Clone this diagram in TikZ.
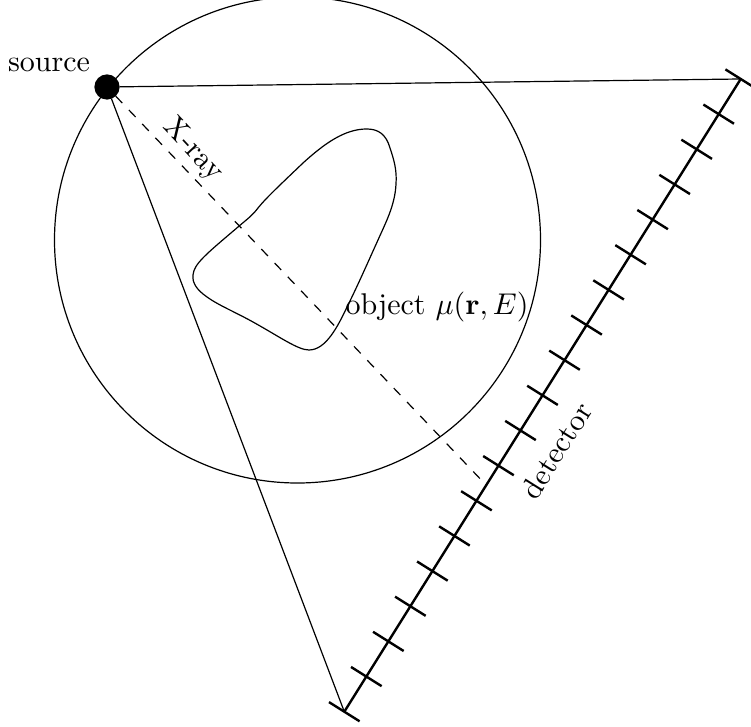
\documentclass[tikz,border=0pt]{standalone}
\usepackage{tikz}
\usetikzlibrary{calc}
\tikzset{
  sourcedot/.style={circle, fill=black, draw=black, line width=0.4pt, minimum size=8pt, inner sep=0pt},
  rayline/.style={line width=0.4pt},
  detline/.style={line width=0.8pt},
  lbl/.style={inner sep=0pt, anchor=base}
}

\begin{document}
\begin{tikzpicture}[x=0.33333pt, y=-0.33333pt]
    \useasboundingbox (0,0) rectangle (751,727);
    \draw[rayline] (297.5,240) circle [radius=243];
    \draw[rayline] (366.7,129) .. controls (378,129) and (386,134) .. (390,148)
      .. controls (394,160) and (397,170) .. (396,184)
      .. controls (395,205) and (386,222) .. (378,240)
      .. controls (368,262) and (358,285) .. (347,307)
      .. controls (338,326) and (326,350) .. (309,350)
      .. controls (298,350) and (280,337) .. (253,322)
      .. controls (235,312) and (218,305) .. (207,297)
      .. controls (197,290) and (192,283) .. (193,275)
      .. controls (194,264) and (205,255) .. (238,227)
      .. controls (246,220) and (252,216) .. (258,208)
      .. controls (266,198) and (280,185) .. (303,163)
      .. controls (325,143) and (345,129) .. cycle;
    \node[sourcedot] (src) at (107,87) {};
    \coordinate (detTop) at (740.7,79);
    \coordinate (detBot) at (344.3,711.7);
    \coordinate (detHit) at ($(detTop)!0.642!(detBot)$);
    \draw[rayline] (src) -- (detTop);
    \draw[rayline] (src) -- (detBot);
    \draw[rayline, dash pattern=on 3.2pt off 3.2pt] (src) -- (detHit);
    \draw[detline] (detTop) -- (detBot);
    \foreach \i in {0,...,18} {
      \coordinate (t\i) at ($(detTop)!\i/18!(detBot)$);
      \draw[detline] ($(t\i)+(15.3,9.6)$) -- ($(t\i)+(-15.3,-9.6)$);
    }
    \node[lbl] (srclabel) at (49,71.7) {source};
    \node[lbl, rotate=-47] (raylabel) at (188,155) {X-ray};
    \node[lbl] (objlabel) at (437,315) {object $\mu(\mathbf{r},E)$};
    \node[lbl, rotate=58] (detlabel) at (565,456) {detector};
\end{tikzpicture}
\end{document}
